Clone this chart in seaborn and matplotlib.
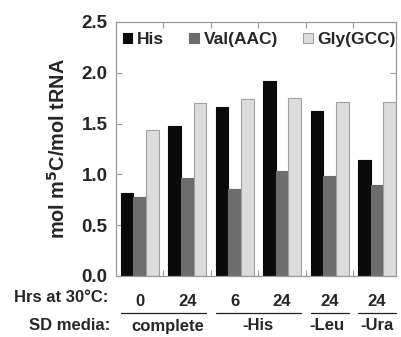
import matplotlib
matplotlib.use("Agg")
import matplotlib.pyplot as plt
import matplotlib.patches as mpatches
import matplotlib.transforms as mtransforms
import seaborn as sns
import pandas as pd

# ---- data ----
groups = ["g0", "g1", "g2", "g3", "g4", "g5"]
hours = ["0", "24", "6", "24", "24", "24"]
media = ["complete", "-His", "-Leu", "-Ura"]
media_spans = [(0, 1), (2, 3), (4, 4), (5, 5)]
series = ["His", "Val(AAC)", "Gly(GCC)"]
his = [0.82, 1.48, 1.66, 1.92, 1.62, 1.14]
val = [0.78, 0.96, 0.86, 1.03, 0.98, 0.90]
gly = [1.44, 1.70, 1.74, 1.75, 1.71, 1.71]

colors = ["#0a0a0a", "#6c6c6c", "#dcdcdc"]
edges = ["#0a0a0a", "#6c6c6c", "#a0a0a0"]

rows = []
for name, vals in zip(series, [his, val, gly]):
    for g, v in zip(groups, vals):
        rows.append({"group": g, "series": name, "value": v})
df = pd.DataFrame(rows)

sns.set_theme(style="white")
plt.rcParams["font.family"] = ["Liberation Sans", "DejaVu Sans"]
plt.rcParams["font.weight"] = "bold"

fig = plt.figure(figsize=(4.01, 3.37), dpi=100)
ax = fig.add_axes([116 / 401, 1 - 276 / 337, 280 / 401, 254 / 337])

sns.barplot(data=df, x="group", y="value", hue="series", order=groups,
            hue_order=series, palette=colors, width=0.8, ax=ax,
            saturation=1, legend=False, errorbar=None)

for i, container in enumerate(ax.containers):
    for bar in container:
        bar.set_edgecolor(edges[i])
        bar.set_linewidth(0.8)

ax.set_xlim(-0.5, 5.4)
ax.set_ylim(0, 2.5)
ax.set_yticks([0, 0.5, 1.0, 1.5, 2.0, 2.5])
ax.set_yticklabels(["0.0", "0.5", "1.0", "1.5", "2.0", "2.5"],
                   fontsize=13.5, fontweight="bold")
ax.set_xticks(range(len(groups)))
ax.set_xticklabels(hours, fontsize=12, fontweight="bold")
ax.tick_params(axis="x", which="major", length=0, pad=13)
ax.set_xticks([0.5, 1.5, 2.5, 3.5, 4.5], minor=True)
ax.tick_params(axis="x", which="minor", direction="in", length=4,
               top=True, bottom=True, color="#999999", width=0.8)
ax.tick_params(axis="y", direction="in", length=4, left=True, right=True,
               color="#999999", width=0.8, pad=6)
ax.set_xlabel("")
ax.set_ylabel("mol m$^\\mathbf{5}$C/mol tRNA", fontsize=14.3,
              fontweight="bold", labelpad=9)

for s in ax.spines.values():
    s.set_color("#9a9a9a")
    s.set_linewidth(0.9)

handles = [mpatches.Patch(facecolor=c, edgecolor=e, linewidth=0.8)
           for c, e in zip(colors, edges)]
ax.legend(handles, series, ncol=3, loc="upper left",
          bbox_to_anchor=(0.0, 0.988), frameon=False,
          handlelength=0.55, handleheight=0.55, handletextpad=0.27,
          columnspacing=1.45, borderaxespad=0.0, borderpad=0.4,
          prop={"size": 12.5, "weight": "bold"})

# bottom annotation rows
fig.text(108 / 401, 1 - 298 / 337, "Hrs at 30°C:", ha="right", va="center",
         fontsize=12, fontweight="bold")
fig.text(110 / 401, 1 - 326 / 337, "SD media:", ha="right", va="center",
         fontsize=12, fontweight="bold")
trans = mtransforms.blended_transform_factory(ax.transData, fig.transFigure)
label_shift = [0.1, 0.0, -0.05, 0.0]
for name, (a, b), sh in zip(media, media_spans, label_shift):
    x0, x1 = a - 0.4, b + 0.4
    ax.plot([x0, x1], [1 - 312.5 / 337] * 2, color="#222222", lw=0.9,
            transform=trans, clip_on=False)
    ax.text((x0 + x1) / 2 + sh, 1 - 326 / 337, name, transform=trans,
            ha="center", va="center", fontsize=12, fontweight="bold")

fig.savefig("out.png", dpi=100)
